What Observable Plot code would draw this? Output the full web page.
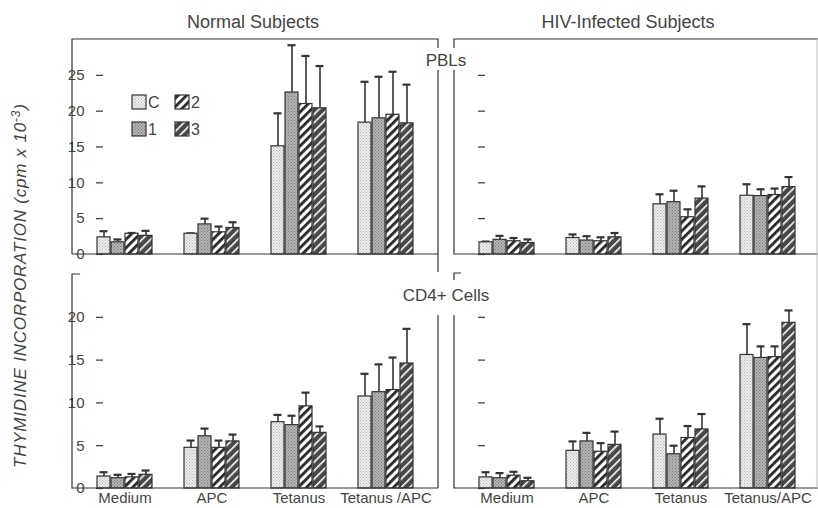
<!DOCTYPE html>
<html>
<head>
<meta charset="utf-8">
<script src="https://cdn.jsdelivr.net/npm/d3@7"></script>
<script src="https://cdn.jsdelivr.net/npm/@observablehq/plot@0.6"></script>
<style>
  html, body { margin: 0; padding: 0; background: #fff; }
  #chart { position: relative; width: 818px; height: 508px; overflow: hidden; font-family: "Liberation Sans", Arial, sans-serif; }
  #chart > svg { position: absolute; left: 0; top: 0; }
</style>
</head>
<body>
<div id="chart"></div>
<script>
// ---------- data ----------
const series = ["C", "1", "2", "3"];
const conditions = ["Medium", "APC", "Tetanus", "Tetanus/APC"];
const xLabelsNormal = ["Medium", "APC", "Tetanus", "Tetanus /APC"];
const xLabelsHIV = ["Medium", "APC", "Tetanus", "Tetanus/APC"];
const yTicksPBL = [0, 5, 10, 15, 20, 25];
const yTicksCD4 = [0, 5, 10, 15, 20];

// mean values, rows = conditions, columns = series C,1,2,3
const normalPBL = [[2.4, 1.7, 2.9, 2.6], [2.9, 4.2, 3.1, 3.7], [15.1, 22.6, 21.0, 20.4], [18.4, 19.0, 19.5, 18.3]];
const normalPBLTop = [[3.25, 2.1, 3.0, 3.3], [2.95, 5.0, 3.9, 4.5], [19.7, 29.2, 27.7, 26.3], [24.1, 24.8, 25.5, 23.7]];
const hivPBL = [[1.7, 2.05, 1.85, 1.6], [2.3, 1.95, 1.85, 2.4], [7.0, 7.3, 5.2, 7.8], [8.2, 8.15, 8.3, 9.4]];
const hivPBLTop = [[1.8, 2.6, 2.3, 2.1], [2.8, 2.55, 2.4, 3.0], [8.4, 8.9, 6.3, 9.5], [9.8, 9.1, 9.2, 10.8]];
const normalCD4 = [[1.4, 1.2, 1.3, 1.6], [4.75, 6.1, 4.75, 5.5], [7.75, 7.4, 9.6, 6.5], [10.75, 11.25, 11.5, 14.6]];
const normalCD4Top = [[1.9, 1.6, 1.7, 2.1], [5.6, 7.0, 5.6, 6.3], [8.6, 8.5, 11.2, 7.25], [13.4, 14.5, 15.3, 18.65]];
const hivCD4 = [[1.3, 1.2, 1.5, 0.85], [4.4, 5.5, 4.3, 5.1], [6.3, 4.0, 5.9, 6.9], [15.6, 15.25, 15.35, 19.35]];
const hivCD4Top = [[1.9, 1.8, 1.95, 1.25], [5.5, 6.5, 5.3, 6.65], [8.15, 5.0, 7.3, 8.7], [19.2, 16.6, 16.6, 20.8]];

// ---------- layout ----------
const W = 818, H = 508;
const LINE = "#333";
const TEXT = "#444";
const FONT = '"Liberation Sans", Arial, sans-serif';
const L = {x0: 72, x1: 438}, R = {x0: 454, x1: 820};
const TOP = {y0: 39, y1: 254}, BOT = {y0: 274, y1: 488};
const patternUrls = ["url(#pC)", "url(#p1)", "url(#p2)", "url(#p3)"];

const chart = document.getElementById("chart");

// decoration svg (pattern defs, frames, titles, legend)
const deco = d3.select(chart).append("svg").attr("width", W).attr("height", H)
  .style("position", "absolute").style("left", 0).style("top", 0).style("z-index", 2)
  .style("font-family", FONT);
const defs = deco.append("defs");
function dotPattern(id, base, dot) {
  const p = defs.append("pattern").attr("id", id).attr("patternUnits", "userSpaceOnUse").attr("width", 3).attr("height", 3);
  p.append("rect").attr("width", 3).attr("height", 3).attr("fill", base);
  p.append("rect").attr("x", 0).attr("y", 0).attr("width", 1).attr("height", 1).attr("fill", dot);
  p.append("rect").attr("x", 1.5).attr("y", 1.5).attr("width", 1).attr("height", 1).attr("fill", dot);
}
function stripePattern(id, base, stripe, sw) {
  const p = defs.append("pattern").attr("id", id).attr("patternUnits", "userSpaceOnUse")
    .attr("width", 6).attr("height", 6).attr("patternTransform", "rotate(45)");
  p.append("rect").attr("width", 6).attr("height", 6).attr("fill", base);
  p.append("rect").attr("x", 0).attr("y", 0).attr("width", sw).attr("height", 6).attr("fill", stripe);
}
dotPattern("pC", "#ececec", "#b8b8b8");
dotPattern("p1", "#b4b4b4", "#7a7a7a");
stripePattern("p2", "#ffffff", "#262626", 2.8);
stripePattern("p3", "#484848", "#ffffff", 1.6);

// ---------- panels ----------
function panel(values, tops, yMax, yTicks, box, rowBox, showYLabels, xLabels) {
  const rows = conditions.flatMap((c, i) => series.map((s, j) => ({cond: c, series: s, value: values[i][j], top: tops[i][j]})));
  const marks = [
    Plot.axisY({ticks: yTicks, tickSize: -7, tickPadding: 19, stroke: LINE, strokeWidth: 1.2,
      tickFormat: showYLabels ? (d => String(d)) : (() => ""), label: null, fill: TEXT, fontSize: 15}),
    Plot.ruleX(rows, {fx: "cond", x: "series", y1: "value", y2: "top", stroke: LINE, strokeWidth: 1.6}),
    Plot.tickY(rows, {fx: "cond", x: "series", y: "top", stroke: LINE, strokeWidth: 2.2, insetLeft: 2.5, insetRight: 2.5}),
    Plot.barY(rows, {fx: "cond", x: "series", y: "value", fill: "series", stroke: LINE, strokeWidth: 1.2})
  ];
  if (xLabels) {
    marks.push(Plot.axisFx({anchor: "bottom", tickSize: 0, tickPadding: 4, label: null, fill: TEXT, fontSize: 15,
      tickFormat: d => xLabels[conditions.indexOf(d)]}));
  }
  const svg = Plot.plot({
    width: W, height: H,
    marginLeft: box.x0, marginRight: W - box.x1, marginTop: rowBox.y0, marginBottom: H - rowBox.y1,
    style: {background: "transparent", overflow: "visible", fontFamily: FONT, fontSize: "15px", color: TEXT},
    fx: {domain: conditions, paddingInner: 0.35, paddingOuter: 0.26, label: null, axis: null},
    x: {domain: series, paddingInner: 0.1, paddingOuter: 0.02, axis: null},
    y: {domain: [0, yMax], axis: null},
    color: {domain: series, range: patternUrls},
    marks
  });
  chart.appendChild(svg);
}
panel(normalPBL, normalPBLTop, 30, yTicksPBL, L, TOP, true, null);
panel(hivPBL, hivPBLTop, 30, yTicksPBL, R, TOP, false, null);
panel(normalCD4, normalCD4Top, 25, yTicksCD4, L, BOT, true, xLabelsNormal);
panel(hivCD4, hivCD4Top, 25, yTicksCD4, R, BOT, false, xLabelsHIV);

// ---------- frames ----------
const fr = deco.append("g").attr("fill", "none").attr("stroke", LINE).attr("stroke-width", 1.2);
const frames = [
  `M${L.x0},${TOP.y1}V${TOP.y0}H${L.x1}V48`,
  `M${L.x0},${TOP.y1}H${L.x1}`,
  `M${L.x1},70V272`,
  `M${L.x1},315V${BOT.y1}`,
  `M${L.x0 + 8},${BOT.y0}H${L.x0}V${BOT.y1}H${L.x1}`,
  `M${R.x0},48V${TOP.y0}H${W}`,
  `M${R.x0},70V${TOP.y1}H${W}`,
  `M${R.x0 + 7},${BOT.y0 - 1}H${R.x0}V280`,
  `M${R.x0},315V${BOT.y1}H${W}`
];
frames.forEach(d => fr.append("path").attr("d", d));
deco.append("line").attr("x1", 817).attr("x2", 817).attr("y1", TOP.y0).attr("y2", BOT.y1)
  .attr("stroke", "#bbb").attr("stroke-width", 1);

// ---------- texts ----------
const t = deco.append("g").attr("fill", TEXT);
t.append("text").attr("x", 253).attr("y", 28).attr("text-anchor", "middle").attr("font-size", 18).text("Normal Subjects");
t.append("text").attr("x", 628).attr("y", 28).attr("text-anchor", "middle").attr("font-size", 18).text("HIV-Infected Subjects");
t.append("text").attr("x", 446).attr("y", 66).attr("text-anchor", "middle").attr("font-size", 17).text("PBLs");
t.append("text").attr("x", 446).attr("y", 301).attr("text-anchor", "middle").attr("font-size", 17).text("CD4+ Cells");
const yt = t.append("text").attr("transform", "translate(26,286) rotate(-90)").attr("text-anchor", "middle")
  .attr("font-size", 17).attr("font-style", "italic").attr("textLength", 364).attr("lengthAdjust", "spacing");
yt.append("tspan").text("THYMIDINE INCORPORATION (cpm x 10");
yt.append("tspan").attr("font-size", 12).attr("dy", -6).text("-3");
yt.append("tspan").attr("dy", 6).text(")");

// ---------- legend ----------
const lg = deco.append("g");
series.forEach((s, j) => {
  const col = Math.floor(j / 2), row = j % 2;
  const x = 132 + col * 43, y = 95 + row * 27;
  lg.append("rect").attr("x", x).attr("y", y).attr("width", 14).attr("height", 14)
    .attr("fill", patternUrls[j]).attr("stroke", LINE).attr("stroke-width", 1.2);
  lg.append("text").attr("x", x + 16).attr("y", y + 13).attr("font-size", 16).attr("fill", TEXT).text(s);
});
</script>
</body>
</html>
